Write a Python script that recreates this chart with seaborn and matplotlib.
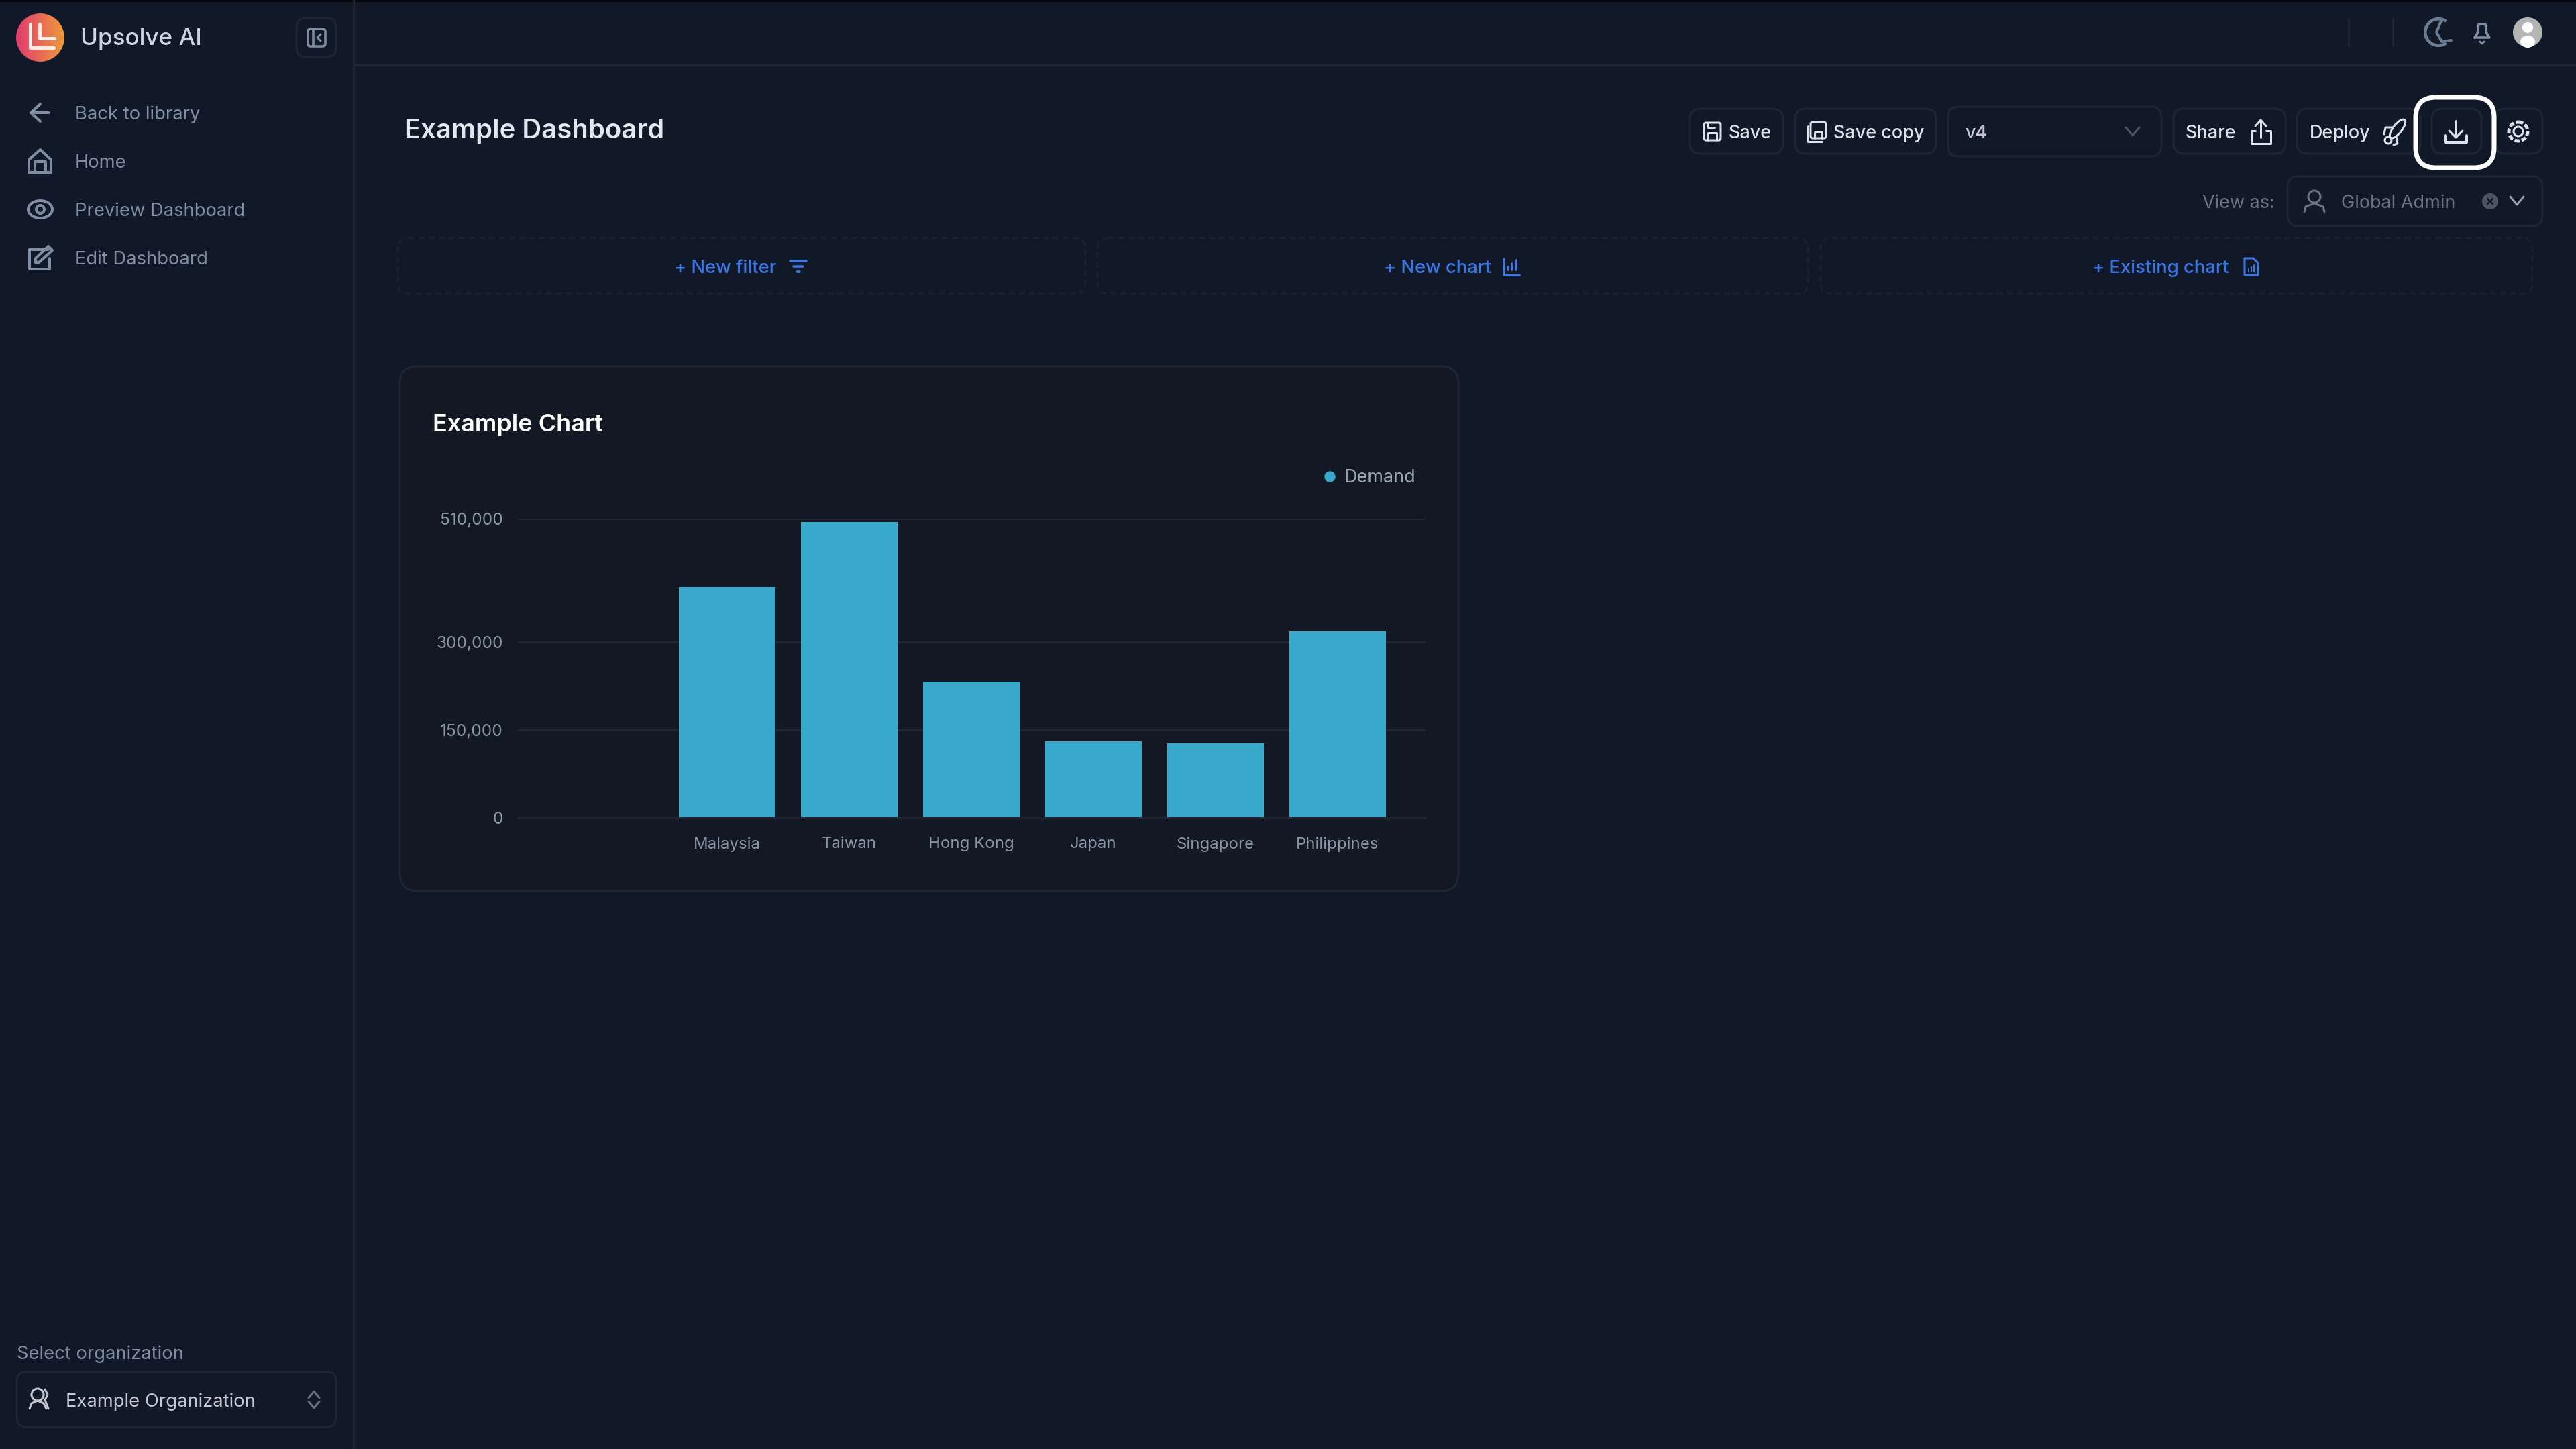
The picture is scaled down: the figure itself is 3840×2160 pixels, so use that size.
import numpy as np
import pandas as pd
import matplotlib
matplotlib.use("Agg")
import matplotlib.pyplot as plt
import seaborn as sns
from matplotlib.lines import Line2D
from matplotlib.patches import Circle, Ellipse, FancyBboxPatch, Wedge

countries = ["Malaysia", "Taiwan", "Hong Kong", "Japan", "Singapore", "Philippines"]
demand = [393000, 504000, 232000, 131000, 127500, 318000]
y_ticks = [0, 150000, 300000, 510000]
y_tick_labels = ["0", "150,000", "300,000", "510,000"]
nav_items = ["Back to library", "Home", "Preview Dashboard", "Edit Dashboard"]

BG = "#111827"
CARD = "#121924"
BORDER = "#1f2631"
BAR = "#38a9cb"
SLATE = "#7f8ea3"
BLUE = "#3b78e7"
W, H = 3840, 2160

sns.set_theme(style="dark", rc={"figure.facecolor": BG, "axes.facecolor": "none"})
plt.rcParams["font.family"] = ["Inter", "DejaVu Sans"]

fig = plt.figure(figsize=(38.4, 21.6), dpi=100)
ui = fig.add_axes([0, 0, 1, 1], zorder=0)
ui.set_xlim(0, W)
ui.set_ylim(H, 0)
ui.axis("off")


def px(size):
    return size * 0.72


def box(x0, y0, x1, y1, r=16, fc="none", ec=BORDER, w=3, ls="-", z=2):
    p = FancyBboxPatch((x0, y0), x1 - x0, y1 - y0, boxstyle=f"round,pad=0,rounding_size={r}",
                       fc=fc, ec=ec, lw=px(w), ls=ls, zorder=z)
    ui.add_patch(p)


def line(xs, ys, color=SLATE, w=4, z=4):
    ui.plot(xs, ys, color=color, lw=px(w), solid_capstyle="round", solid_joinstyle="round", zorder=z)


def label(x, y, s, size, color, weight="normal", ha="left"):
    ui.text(x, y, s, fontsize=px(size), color=color, fontweight=weight, ha=ha, va="center_baseline", zorder=5)


def chevron(x, y, color, up=False, s=11, w=3):
    d = -s * 0.6 if up else s * 0.6
    line([x - s, x, x + s], [y - d, y + d, y - d], color, w)


# frame
ui.add_patch(plt.Rectangle((0, 0), W, 3, fc="#05070c", ec="none"))
line([527, 527], [0, H], BORDER, 3, 1)
line([527, W], [97, 97], BORDER, 3, 1)

# logo
grad = np.linspace(0, 1, 200).reshape(1, -1)
cmap = matplotlib.colors.LinearSegmentedColormap.from_list("logo", ["#e23c6e", "#ec9a3c"])
im = ui.imshow(grad, extent=(24, 96, 92, 20), cmap=cmap, aspect="auto", zorder=3)
im.set_clip_path(Circle((60, 56), 36, transform=ui.transData))
ui.set_xlim(0, W)
ui.set_ylim(H, 0)
line([45, 45, 80], [36, 71, 71], "#fdeee8", 5)
line([59, 59, 81], [36, 57, 57], "#fdeee8", 5)
label(120, 55, "Upsolve AI", 35, "#cbd5e1", "medium")
box(442, 27, 501, 85, 14)
box(459, 43, 485, 69, 4, ec=SLATE, w=3.5, z=4)
line([467, 467], [43, 69], SLATE, 3.5)
line([478, 473, 478], [51, 56, 61], SLATE, 3)

# nav
for name, y in zip(nav_items, [168, 240, 312, 384]):
    label(112, y, name, 27.4, SLATE)
line([73, 46], [168, 168])
line([60, 46, 60], [155, 168, 181])
line([43, 43, 60, 76, 76, 43], [257, 238, 223, 238, 257, 257])
line([52, 52, 68, 68], [257, 241, 241, 257])
ui.add_patch(Ellipse((60, 312), 36, 26, fc="none", ec=SLATE, lw=px(4), zorder=4))
ui.add_patch(Circle((60, 312), 6, fc="none", ec=SLATE, lw=px(4), zorder=4))
line([72, 44, 44, 74, 74], [372, 372, 401, 401, 385])
line([53, 53, 72, 78, 58, 53], [391, 385, 367, 373, 391, 391])

# organization picker
label(25, 2016, "Select organization", 27.4, SLATE)
box(25, 2045, 501, 2127, 14)
label(98, 2087, "Example Organization", 27.4, "#c3c8d2")
ui.add_patch(Circle((56, 2079), 9, fc="none", ec="#c3c8d2", lw=px(3), zorder=4))
line([44, 47, 56, 65, 69], [2100, 2092, 2088, 2092, 2100], "#c3c8d2", 3)
line([67, 71, 67, 72], [2071, 2079, 2087, 2100], "#c3c8d2", 3)
chevron(468, 2079, "#6b7280", up=True, s=8)
chevron(468, 2094, "#6b7280", s=8)

# page header
label(603, 192, "Example Dashboard", 40, "#e2e8f0", "semibold")
for x0, x1 in [(2519, 2658), (2676, 2886), (3240, 3407), (3424, 3608), (3625, 3699), (3718, 3790)]:
    box(x0, 162, x1, 229, 16)
box(2904, 159, 3222, 233, 16)
box(3410, 263, 3790, 337, 16)
box(3601, 145, 3718, 250, 30, ec="white", w=7, z=6)
TXT = "#dde3ec"
label(2577, 196, "Save", 27, TXT, "medium")
label(2733, 196, "Save copy", 27, TXT, "medium")
label(2929, 196, "v4", 27, "#c3c8d2", "medium")
label(3258, 196, "Share", 27, TXT, "medium")
label(3443, 196, "Deploy", 27, TXT, "medium")
label(3283, 300, "View as:", 27, "#6b7280")
label(3490, 300, "Global Admin", 27, "#6b7280")

# button icons
box(2540, 183, 2565, 209, 3, ec=TXT, w=3, z=4)
line([2546, 2546, 2559, 2559], [209, 198, 198, 209], TXT, 3)
line([2546, 2546, 2556], [183, 190, 190], TXT, 3)
box(2699, 182, 2722, 206, 3, ec=TXT, w=3, z=4)
line([2695, 2695, 2716], [188, 211, 211], TXT, 3)
line([2705, 2705, 2716, 2716], [206, 197, 197, 206], TXT, 3)
chevron(3179, 196, "#4b5563", s=10)
line([3370, 3370], [180, 205], TXT, 3)
line([3362, 3370, 3378], [188, 179, 188], TXT, 3)
line([3362, 3356, 3356, 3385, 3385, 3378], [195, 195, 214, 214, 195, 195], TXT, 3)
ui.add_patch(Ellipse((3574, 192), 13, 34, angle=38, fc="none", ec=TXT, lw=px(3), zorder=4))
line([3566, 3556, 3554], [190, 190, 200], TXT, 3)
line([3572, 3574, 3568], [204, 214, 216], TXT, 3)
ui.add_patch(Circle((3560, 209), 5, fc="none", ec=TXT, lw=px(3), zorder=4))
line([3661, 3661], [180, 204], TXT, 3)
line([3651, 3661, 3671], [195, 205, 195], TXT, 3)
line([3645, 3645, 3677, 3677], [202, 212, 212, 202], TXT, 4)
ui.add_patch(Circle((3754, 196), 7, fc="none", ec=TXT, lw=px(3), zorder=4))
ui.add_patch(Circle((3754, 196), 14, fc="none", ec=TXT, lw=px(5), ls=(0, (1.5, 0.6)), zorder=4))
ui.add_patch(Circle((3450, 293), 9, fc="none", ec="#6b7280", lw=px(3), zorder=4))
line([3435, 3437, 3450, 3463, 3465], [316, 308, 303, 308, 316], "#6b7280", 3)
ui.add_patch(Circle((3712, 300), 12, fc="#4b5563", ec="none", zorder=4))
line([3708, 3716], [296, 304], "#111827", 2.5, 5)
line([3708, 3716], [304, 296], "#111827", 2.5, 5)
chevron(3752, 299, "#9ca3af", s=10)

# top right
line([3501, 3501], [28, 68], BORDER, 3)
line([3567, 3567], [28, 68], BORDER, 3)
ui.add_patch(Wedge((3635, 48), 20, 60, 300, width=0.5, fc="none", ec="#6b7c93", lw=px(4), zorder=4))
line([3640, 3632, 3640, 3654], [29, 48, 62, 60], "#6b7c93", 4)
line([3689, 3693, 3695, 3705, 3707, 3711, 3689], [56, 50, 36, 36, 50, 56, 56], "#7f8ea3", 3.5)
line([3697, 3700, 3703], [62, 65, 62], "#7f8ea3", 3)
ui.add_patch(Circle((3768, 48), 22, fc="#b5b5b5", ec="none", zorder=4))
ui.add_patch(Circle((3768, 41), 8, fc="white", ec="none", zorder=5))
ui.add_patch(Ellipse((3768, 62), 22, 18, fc="white", ec="none", zorder=5))

# add-something row
for x0, x1 in [(593, 1618), (1636, 2695), (2714, 3775)]:
    box(x0, 355, x1, 438, 16, ec="#1a212d", ls=(0, (3, 2)))
label(1005, 397, "+ New filter", 27.3, BLUE, "medium")
label(2063, 397, "+ New chart", 27.3, BLUE, "medium")
label(3119, 397, "+ Existing chart", 27.3, BLUE, "medium")
line([1178, 1202], [389, 389], BLUE, 3.5)
line([1183, 1197], [397, 397], BLUE, 3.5)
line([1188, 1192], [405, 405], BLUE, 3.5)
line([2241, 2241, 2265], [385, 410, 410], BLUE, 3)
line([2248, 2248], [402, 397], BLUE, 3)
line([2254, 2254], [402, 392], BLUE, 3)
line([2260, 2260], [402, 387], BLUE, 3)
line([3346, 3346, 3366, 3366, 3359, 3346], [385, 410, 410, 392, 385, 385], BLUE, 3)
line([3352, 3352], [405, 401], BLUE, 2)
line([3356, 3356], [405, 398], BLUE, 2)
line([3360, 3360], [405, 395], BLUE, 2)

# chart card
box(596, 546, 2174, 1328, 26, fc=CARD, ec=BORDER, z=1)
label(645, 630, "Example Chart", 36, "white", "semibold")

df = pd.DataFrame({"country": countries, "demand": demand})
ax = fig.add_axes([772 / W, 1 - 1219.3 / H, (2125 - 772) / W, (1219.3 - 773) / H], zorder=1)
sns.barplot(data=df, x="country", y="demand", color=BAR, saturation=1, width=0.79, linewidth=0, ax=ax)
ax.set_xlim(-1.714, 5.72)
ax.set_ylim(0, 510000)
ax.set_yticks(y_ticks, y_tick_labels)
ax.set_xlabel("")
ax.set_ylabel("")
ax.set_axisbelow(True)
ax.grid(axis="y", color=BORDER, lw=px(3))
ax.grid(axis="x", visible=False)
ax.tick_params(length=0)
ax.tick_params(axis="y", labelsize=px(24.5), labelcolor="#8b95a5", pad=px(22))
ax.tick_params(axis="x", labelsize=px(24), labelcolor="#8b95a5", pad=px(28))
sns.despine(ax=ax, left=True, bottom=True)
ax.spines["bottom"].set_visible(True)
ax.spines["bottom"].set_color(BORDER)
ax.spines["bottom"].set_linewidth(px(3))

handle = Line2D([], [], ls="none", marker="o", color=BAR, markersize=px(15))
leg = ax.legend([handle], ["Demand"], loc="center right", frameon=False, bbox_to_anchor=(2110 / W, 1 - 712 / H),
                bbox_transform=fig.transFigure, prop={"size": px(27)}, labelcolor="#9aa3b2",
                handlelength=0.8, handletextpad=0.4, borderpad=0, borderaxespad=0)

fig.savefig("out.png", dpi=100, facecolor=BG)
